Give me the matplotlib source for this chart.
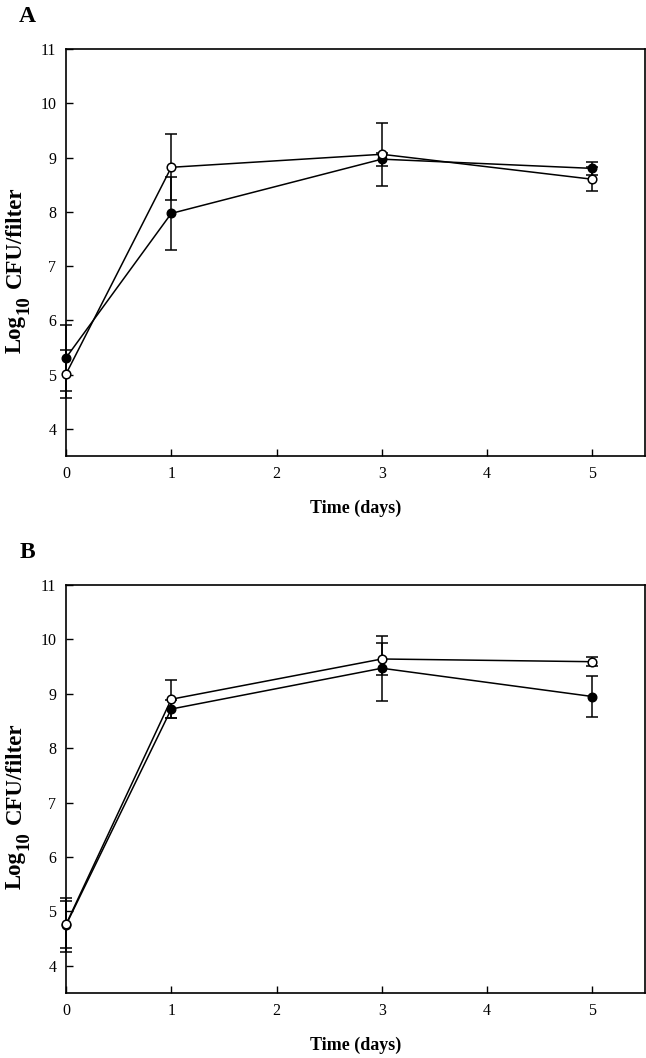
import matplotlib
matplotlib.use("Agg")
import matplotlib.pyplot as plt

plt.rcParams['font.family'] = 'Liberation Serif'

dias = [0, 1, 3, 5]

# painel A
a_cheio = [5.31, 7.97, 8.97, 8.80]
a_cheio_err = [0.61, 0.67, 0.12, 0.12]
a_vazio = [5.01, 8.82, 9.06, 8.60]
a_vazio_err = [0.44, 0.61, 0.58, 0.22]

# painel B
b_cheio = [4.75, 8.72, 9.47, 8.95]
b_cheio_err = [0.50, 0.17, 0.60, 0.37]
b_vazio = [4.76, 8.90, 9.64, 9.59]
b_vazio_err = [0.44, 0.35, 0.30, 0.08]

yticks = [4, 5, 6, 7, 8, 9, 10, 11]
xticks = [0, 1, 2, 3, 4, 5]

W, H = 646, 1058
fig = plt.figure(figsize=(W / 100, H / 100), dpi=100)
r = fig.canvas.get_renderer()


def rotulo_y(base_px):
    # "Log" + subscrito "10" + "CFU/filter", escrito de baixo para cima
    kw = dict(rotation=90, rotation_mode='anchor', ha='left', va='baseline',
              fontweight='bold')
    t1 = fig.text(21 / W, 1 - base_px / H, 'Log', fontsize=16.5, **kw)
    bb = t1.get_window_extent(r)
    t2 = fig.text(29 / W, (bb.y1 + 1) / H, '10', fontsize=13.5, **kw)
    bb2 = t2.get_window_extent(r)
    fig.text(21 / W, (bb2.y1 + 7) / H, 'CFU/filter', fontsize=16.5, **kw)


def painel(top_px, bot_px, letra, cheio, cheio_err, vazio, vazio_err):
    ax = fig.add_axes([66 / W, 1 - bot_px / H, 579 / W, (bot_px - top_px) / H])
    ax.errorbar(dias, cheio, yerr=cheio_err, color='black', lw=1.1,
                marker='o', ms=6.2, mfc='black', mec='black',
                capsize=4.2, elinewidth=1.1, capthick=1.1, zorder=3, clip_on=False)
    ax.errorbar(dias, vazio, yerr=vazio_err, color='black', lw=1.1,
                marker='o', ms=6.2, mfc='white', mec='black', mew=1.1,
                capsize=4.2, elinewidth=1.1, capthick=1.1, zorder=4, clip_on=False)
    ax.set_xlim(0, 5.5)
    ax.set_ylim(3.5, 11)
    ax.set_xticks(xticks)
    ax.set_yticks(yticks)
    ax.tick_params(direction='in', length=5, width=1, labelsize=11.5, pad=7,
                   top=False, right=False)
    for s in ax.spines.values():
        s.set_linewidth(1.2)
    ax.text(0.5, -52 / (bot_px - top_px), 'Time (days)',
            transform=ax.transAxes, ha='center', va='center',
            fontsize=13, fontweight='bold')
    rotulo_y(top_px + 304)
    fig.text(27 / W, 1 - (top_px - 32) / H, letra, ha='center', va='center',
             fontsize=17, fontweight='bold')
    return ax


painel(49, 456, 'A', a_cheio, a_cheio_err, a_vazio, a_vazio_err)
painel(585, 993, 'B', b_cheio, b_cheio_err, b_vazio, b_vazio_err)

fig.savefig('out.png', dpi=100)
